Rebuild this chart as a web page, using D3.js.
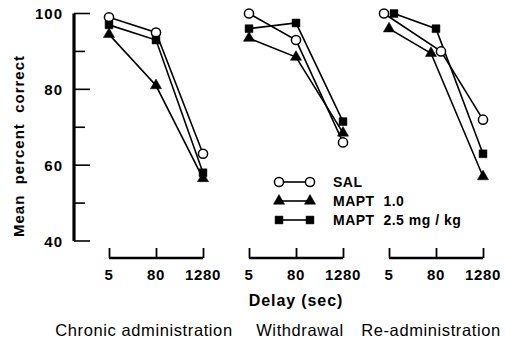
<!DOCTYPE html>
<html>
<head>
<meta charset="utf-8">
<script src="https://cdn.jsdelivr.net/npm/d3@7"></script>
<style>
  body { margin: 0; background: #fff; }
  svg { display: block; }
  text { font-family: "Liberation Sans", Arial, sans-serif; fill: #000; }
</style>
</head>
<body>
<svg id="chart" width="505" height="342"></svg>
<script>
var delays = ['5', '80', '1280']
var phases = ['Chronic administration', 'Withdrawal', 'Re-administration']
var yTicks = [40, 50, 60, 70, 80, 90, 100]
var yLabels = [40, 60, 80, 100]

// mean percent correct, one array per phase (5, 80, 1280 sec)
var salValues = [[99, 95, 63], [100, 93, 66], [100, 90, 72]]
var mapt1Values = [[94.5, 81, 56.5], [93.5, 88.5, 68.5], [96, 89.5, 57]]
var mapt25Values = [[97, 93, 58], [96, 97.5, 71.5], [100, 96, 63]]

var seriesNames = ['SAL', 'MAPT  1.0', 'MAPT  2.5 mg / kg']
var seriesShapes = ['circle', 'triangle', 'square']
var seriesValues = [salValues, mapt1Values, mapt25Values]

var svg = d3.select('#chart')

var y = d3.scaleLinear().domain([40, 100]).range([241, 13.5])
var panelX = d3.scaleBand().domain(phases).range([109, 529]).paddingInner(0)

// nudge points sideways when two series sit on top of each other
function dodge(pi, si, i) {
  var v = seriesValues[si][pi][i], shift = 0
  seriesValues.forEach(function (other, oi) {
    if (oi == si) return
    var w = other[pi][i]
    if (Math.abs(w - v) < 1.2) {
      var right = v > w || (v == w && si > oi)
      shift = right ? 5 : -5
    }
  })
  return shift
}

// y axis
var yAxis = svg.append('g').attr('transform', 'translate(74,0)')
yAxis.append('line')
  .attr('x1', 0).attr('x2', 0)
  .attr('y1', y(40)).attr('y2', y(100))
  .attr('stroke', '#000').attr('stroke-width', 3.2)
yAxis.selectAll('.yt').data(yTicks).enter().append('line')
  .attr('x1', 0)
  .attr('x2', d => yLabels.indexOf(d) >= 0 ? 16 : 11)
  .attr('y1', d => y(d)).attr('y2', d => y(d))
  .attr('stroke', '#000').attr('stroke-width', 1.6)
yAxis.selectAll('.yl').data(yLabels).enter().append('text')
  .attr('x', -11).attr('y', d => y(d) + 5.5)
  .attr('text-anchor', 'end')
  .style('font-size', '15px').style('font-weight', 'bold').style('letter-spacing', '1px')
  .text(d => d)

svg.append('text')
  .attr('transform', 'translate(24,146) rotate(-90)')
  .attr('text-anchor', 'middle')
  .style('font-size', '15px').style('font-weight', 'bold').style('letter-spacing', '1px')
  .style('white-space', 'pre')
  .text('Mean  percent  correct')

var sym = {
  circle: d3.symbol().type(d3.symbolCircle).size(66),
  triangle: d3.symbol().type(d3.symbolTriangle).size(54),
  square: d3.symbol().type(d3.symbolSquare).size(62)
}

phases.forEach(function (phase, pi) {
  var x0 = panelX(phase)
  var x = d3.scalePoint().domain(delays).range([x0, x0 + 94])
  var g = svg.append('g')

  // x axis
  g.append('g')
    .attr('transform', 'translate(0,258)')
    .call(d3.axisTop(x).tickSize(10).tickFormat(''))
    .call(a => a.select('.domain').attr('d', 'M' + x0 + ',0H' + (x0 + 94)).attr('stroke-width', 2.6))
    .call(a => a.selectAll('.tick line').attr('stroke-width', 1.8))
  g.selectAll('.xl').data(delays).enter().append('text')
    .attr('x', d => x(d)).attr('y', 279.5)
    .attr('text-anchor', 'middle')
    .style('font-size', '15px').style('font-weight', 'bold').style('letter-spacing', '0.6px')
    .text(d => d)

  // lines then markers
  seriesValues.forEach(function (vals, si) {
    var pts = vals[pi].map((v, i) => [x(delays[i]) + dodge(pi, si, i), y(v)])
    g.append('path')
      .attr('d', d3.line()(pts))
      .attr('fill', 'none').attr('stroke', '#000').attr('stroke-width', 1.6)
  })
  seriesValues.forEach(function (vals, si) {
    var shape = seriesShapes[si]
    g.selectAll('.m' + si).data(vals[pi]).enter().append('path')
      .attr('transform', (v, i) => 'translate(' + (x(delays[i]) + dodge(pi, si, i)) + ',' + y(v) + ')')
      .attr('d', sym[shape]())
      .attr('fill', shape == 'circle' ? '#fff' : '#000')
      .attr('stroke', '#000').attr('stroke-width', shape == 'circle' ? 1.5 : 0.5)
  })

  svg.append('text')
    .attr('x', [144, 300, 431][pi]).attr('y', 336)
    .attr('text-anchor', 'middle')
    .style('font-size', '16.5px').style('letter-spacing', '0.6px')
    .text(phase)
})

svg.append('text')
  .attr('x', 296).attr('y', 306)
  .attr('text-anchor', 'middle')
  .style('font-size', '16px').style('font-weight', 'bold').style('letter-spacing', '0.9px')
  .style('white-space', 'pre')
  .text('Delay (sec)')

// legend
var legend = svg.append('g').selectAll('g').data(seriesNames).enter().append('g')
  .attr('transform', (d, i) => 'translate(0,' + [182, 201, 220][i] + ')')
legend.append('line')
  .attr('x1', 279).attr('x2', 310)
  .attr('stroke', '#000').attr('stroke-width', 1.6)
legend.each(function (d, i) {
  var shape = seriesShapes[i]
  d3.select(this).selectAll('.lm').data([279, 310]).enter().append('path')
    .attr('transform', px => 'translate(' + px + ',0)')
    .attr('d', sym[shape]())
    .attr('fill', shape == 'circle' ? '#fff' : '#000')
    .attr('stroke', '#000').attr('stroke-width', shape == 'circle' ? 1.5 : 0.5)
})
legend.append('text')
  .attr('x', 333).attr('y', 5)
  .style('font-size', '14px').style('font-weight', 'bold').style('letter-spacing', '0.5px')
  .style('white-space', 'pre')
  .text(d => d)
</script>
</body>
</html>
